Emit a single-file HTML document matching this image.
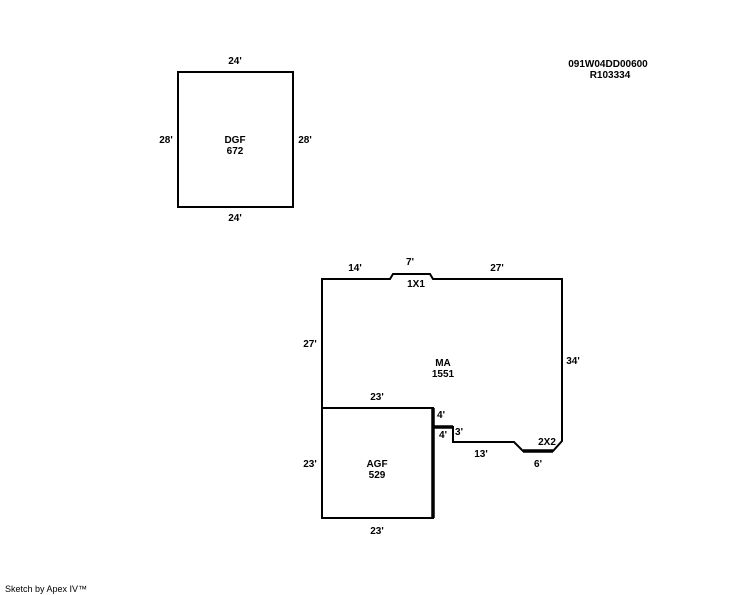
<!DOCTYPE html>
<html><head><meta charset="utf-8"><style>
html,body{margin:0;padding:0;background:#fff;}
svg{display:block;}
text{font-family:"Liberation Sans",Arial,sans-serif;font-size:10px;font-weight:bold;fill:#000;}
.n{font-weight:normal;font-size:9px;}
</style></head><body>
<svg width="744" height="595" viewBox="0 0 744 595" xmlns="http://www.w3.org/2000/svg">
<g fill="none" stroke="#000" stroke-width="2">
<rect x="178" y="72" width="115" height="135"/>
<polyline points="322,518 322,279 390,279 393,274 430,274 433,279 562,279 562,441 553,451 523,451 514,442 453,442 453,427 433,427"/>
<rect x="322" y="408" width="111" height="110"/>
</g>
<g stroke="#000" stroke-width="3.5" fill="none">
<line x1="523" y1="451" x2="553" y2="451"/>
<line x1="433" y1="408" x2="433" y2="518"/>
<line x1="433" y1="427" x2="453" y2="427"/>
</g>
<text x="235" y="64" text-anchor="middle">24'</text>
<text x="235" y="221" text-anchor="middle">24'</text>
<text x="166" y="143" text-anchor="middle">28'</text>
<text x="305" y="143" text-anchor="middle">28'</text>
<text x="235" y="143" text-anchor="middle">DGF</text>
<text x="235" y="154" text-anchor="middle">672</text>
<text x="608" y="67" text-anchor="middle">091W04DD00600</text>
<text x="610" y="78" text-anchor="middle">R103334</text>
<text x="355" y="271" text-anchor="middle">14'</text>
<text x="410" y="265" text-anchor="middle">7'</text>
<text x="497" y="271" text-anchor="middle">27'</text>
<text x="416" y="287" text-anchor="middle">1X1</text>
<text x="310" y="347" text-anchor="middle">27'</text>
<text x="573" y="364" text-anchor="middle">34'</text>
<text x="443" y="366" text-anchor="middle">MA</text>
<text x="443" y="377" text-anchor="middle">1551</text>
<text x="377" y="400" text-anchor="middle">23'</text>
<text x="441" y="418" text-anchor="middle">4'</text>
<text x="443" y="438" text-anchor="middle">4'</text>
<text x="459" y="435" text-anchor="middle">3'</text>
<text x="481" y="457" text-anchor="middle">13'</text>
<text x="547" y="445" text-anchor="middle">2X2</text>
<text x="538" y="467" text-anchor="middle">6'</text>
<text x="310" y="467" text-anchor="middle">23'</text>
<text x="377" y="467" text-anchor="middle">AGF</text>
<text x="377" y="478" text-anchor="middle">529</text>
<text x="377" y="534" text-anchor="middle">23'</text>
<text class="n" x="5" y="592">Sketch by Apex IV™</text>
</svg>
</body></html>
